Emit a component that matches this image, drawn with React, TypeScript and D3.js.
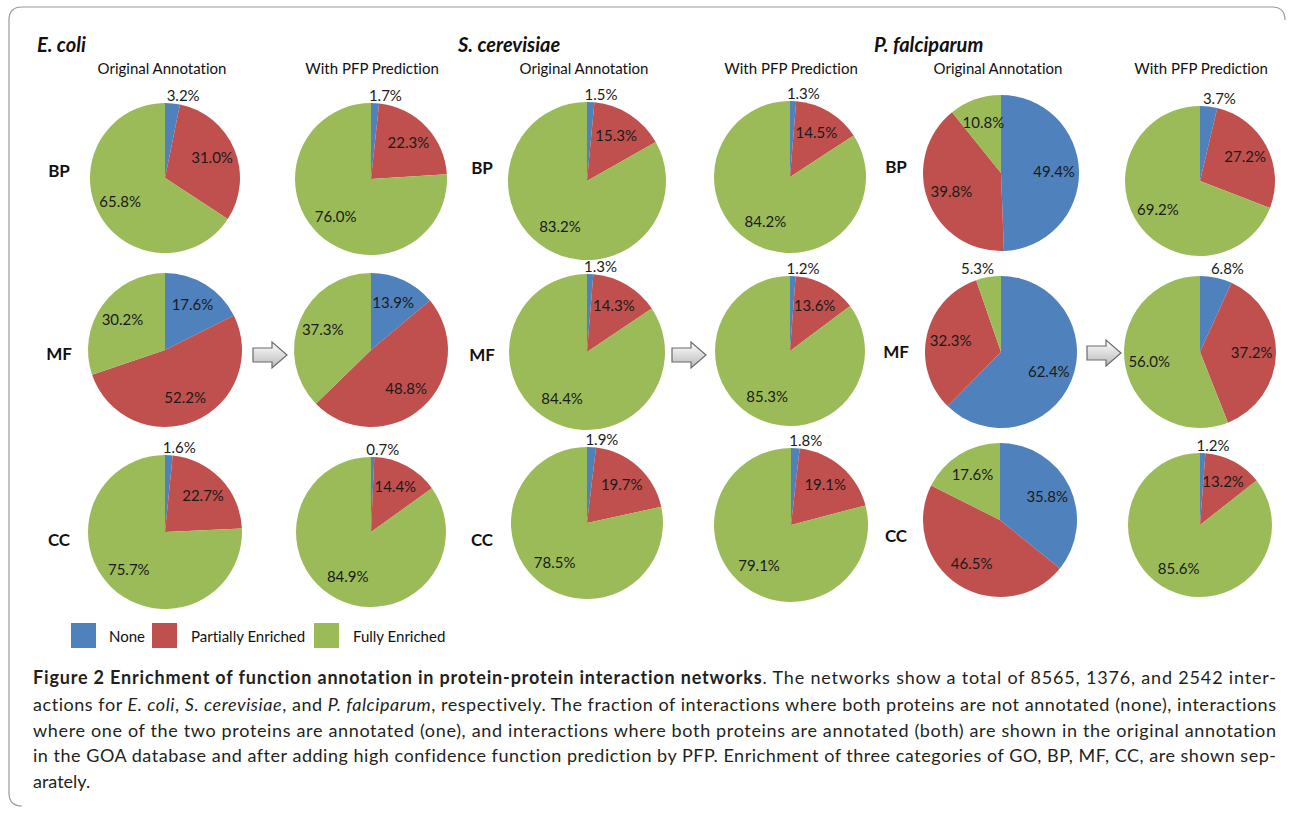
import React from "react";
import * as d3 from "d3";

// categories and panels
const categories = ["None", "Partially Enriched", "Fully Enriched"];
const species = ["E. coli", "S. cerevisiae", "P. falciparum"];
const ontologies = ["BP", "MF", "CC"];
const conditions = ["Original Annotation", "With PFP Prediction"];

// percentages per ontology (BP, MF, CC): [none, partial, full]
const ecoliOriginal = [[3.2, 31.0, 65.8], [17.6, 52.2, 30.2], [1.6, 22.7, 75.7]];
const ecoliPfp = [[1.7, 22.3, 76.0], [13.9, 48.8, 37.3], [0.7, 14.4, 84.9]];
const scerOriginal = [[1.5, 15.3, 83.2], [1.3, 14.3, 84.4], [1.9, 19.7, 78.5]];
const scerPfp = [[1.3, 14.5, 84.2], [1.2, 13.6, 85.3], [1.8, 19.1, 79.1]];
const pfalOriginal = [[49.4, 39.8, 10.8], [62.4, 32.3, 5.3], [35.8, 46.5, 17.6]];
const pfalPfp = [[3.7, 27.2, 69.2], [6.8, 37.2, 56.0], [1.2, 13.2, 85.6]];

const captionBold = "Figure 2 Enrichment of function annotation in protein-protein interaction networks";

// layout (pixels)
const W = 1292;
const H = 814;
const colors = ["#4F81BD", "#C0504D", "#9BBB59"];
const font = "Lato, 'Open Sans', sans-serif";

// [cx, cy, r] per species -> condition -> ontology
const pieLayout = [
  [
    [[165, 178, 75], [165, 350, 77], [165, 532, 77]],
    [[371, 179, 76], [371, 350, 77], [371, 532, 75]],
  ],
  [
    [[587, 181, 79], [587, 352, 78], [587, 523, 76]],
    [[790, 177, 76], [790, 351, 75], [791, 525, 77]],
  ],
  [
    [[1001, 173, 78], [1001, 352, 76], [1000, 520, 77]],
    [[1200, 181, 75], [1200, 352, 76], [1200, 525, 72]],
  ],
];
const speciesTitleX = [37, 458, 874];
const rowLabelX = [59, 482, 896];
const rowLabelY = [
  [171, 354, 540],
  [168, 355, 540],
  [167, 352, 536],
];
const arrowPos = [[253, 355], [672, 355], [1087, 353]];

const values = [
  [ecoliOriginal, ecoliPfp],
  [scerOriginal, scerPfp],
  [pfalOriginal, pfalPfp],
];

const pieGen = d3.pie<number>().sort(null).value((d) => d);

function Pie({ data, cx, cy, r }: { data: number[]; cx: number; cy: number; r: number }) {
  const arcs = pieGen(data);
  const arc = d3.arc<d3.PieArcDatum<number>>().innerRadius(0).outerRadius(r);
  const labelArc = d3.arc<d3.PieArcDatum<number>>().innerRadius(r * 0.68).outerRadius(r * 0.68);
  return (
    <g transform={`translate(${cx},${cy})`}>
      {arcs.map((a, i) => (
        <path key={i} d={arc(a) ?? ""} fill={colors[i]} />
      ))}
      {arcs.map((a, i) => {
        const label = a.data.toFixed(1) + "%";
        if (a.data < 8) {
          const mid = (a.startAngle + a.endAngle) / 2;
          const s = Math.sin(mid);
          const x = (r + 6) * s + (s >= 0 ? 10 : -10);
          return (
            <text key={"l" + i} x={x} y={-r - 2} textAnchor="middle" fontSize={15} fill="#1a1a1a">
              {label}
            </text>
          );
        }
        const [x, y] = labelArc.centroid(a);
        return (
          <text key={"l" + i} x={x} y={y + 5} textAnchor="middle" fontSize={15} fill="#1a1a1a">
            {label}
          </text>
        );
      })}
    </g>
  );
}

function Arrow({ x, y }: { x: number; y: number }) {
  const pts = [
    [x, y - 7], [x + 19, y - 7], [x + 19, y - 13], [x + 34, y],
    [x + 19, y + 13], [x + 19, y + 7], [x, y + 7],
  ];
  return <polygon points={pts.map((p) => p.join(",")).join(" ")} fill="url(#arrowGrad)" stroke="#6b6b6b" strokeWidth={1.2} />;
}

export default function App() {
  const legendX = [71, 152, 314];
  const legendTextX = [109, 191, 353];
  return (
    <svg
      width={W}
      height={H}
      viewBox={`0 0 ${W} ${H}`}
      style={{ position: "absolute", left: 0, top: 0, fontVariantLigatures: "none" }}
      fontFamily={font}
    >
      <defs>
        <linearGradient id="arrowGrad" x1="0" y1="0" x2="0" y2="1">
          <stop offset="0" stopColor="#ffffff" />
          <stop offset="1" stopColor="#b9b9b9" />
        </linearGradient>
      </defs>
      <rect width={W} height={H} fill="#fff" />
      <path d="M 22 806 Q 9 806 9 793 L 9 20 Q 9 7 22 7 L 1272 7 Q 1285 7 1285 20" fill="none" stroke="#9a9a9a" strokeWidth={1.2} />

      {species.map((sp, s) => (
        <g key={sp}>
          <text x={speciesTitleX[s]} y={52} fontSize={20} fontWeight="bold" fontStyle="italic" fill="#111">
            {sp}
          </text>
          {conditions.map((c, ci) => (
            <text key={c} x={pieLayout[s][ci][0][0] + (ci === 0 ? -3 : 1)} y={74} fontSize={15} textAnchor="middle" fill="#111">
              {c}
            </text>
          ))}
          {ontologies.map((o, oi) => (
            <text key={o} x={rowLabelX[s]} y={rowLabelY[s][oi] + 6} fontSize={17} fontWeight="bold" textAnchor="middle" fill="#111">
              {o}
            </text>
          ))}
          {conditions.map((c, ci) =>
            ontologies.map((o, oi) => {
              const [cx, cy, r] = pieLayout[s][ci][oi];
              return <Pie key={c + o} data={values[s][ci][oi]} cx={cx} cy={cy} r={r} />;
            })
          )}
          <Arrow x={arrowPos[s][0]} y={arrowPos[s][1]} />
        </g>
      ))}

      {categories.map((c, i) => (
        <g key={c}>
          <rect x={legendX[i]} y={623} width={25} height={25} fill={colors[i]} />
          <text x={legendTextX[i]} y={642} fontSize={15} fill="#111">
            {c}
          </text>
        </g>
      ))}

      <g fontSize={18} fill="#231f20">
        <text x={33} y={684} textLength={1243} lengthAdjust="spacing">
          <tspan fontWeight="bold">{captionBold}</tspan>
          <tspan>. The networks show a total of 8565, 1376, and 2542 inter-</tspan>
        </text>
        <text x={33} y={711} textLength={1243} lengthAdjust="spacing">
          <tspan>actions for </tspan>
          <tspan fontStyle="italic">E. coli</tspan>
          <tspan>, </tspan>
          <tspan fontStyle="italic">S. cerevisiae</tspan>
          <tspan>, and </tspan>
          <tspan fontStyle="italic">P. falciparum</tspan>
          <tspan>, respectively. The fraction of interactions where both proteins are not annotated (none), interactions</tspan>
        </text>
        <text x={33} y={737} textLength={1243} lengthAdjust="spacing">
          where one of the two proteins are annotated (one), and interactions where both proteins are annotated (both) are shown in the original annotation
        </text>
        <text x={33} y={762} textLength={1243} lengthAdjust="spacing">
          in the GOA database and after adding high confidence function prediction by PFP. Enrichment of three categories of GO, BP, MF, CC, are shown sep-
        </text>
        <text x={33} y={788}>arately.</text>
      </g>
    </svg>
  );
}
